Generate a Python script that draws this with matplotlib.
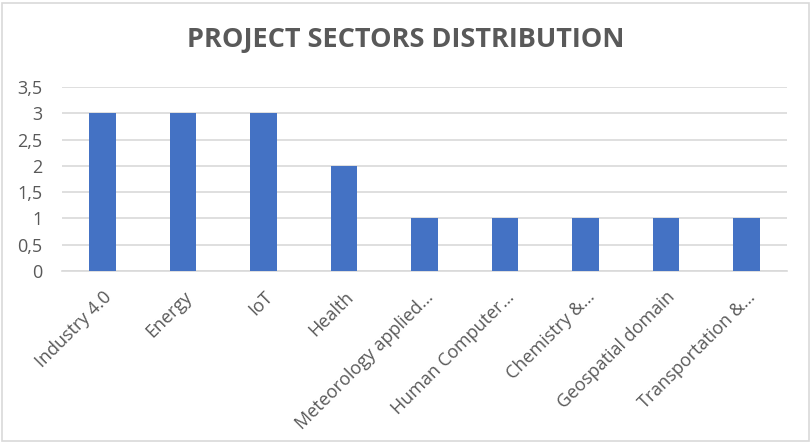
import matplotlib
matplotlib.use("Agg")
import matplotlib.pyplot as plt
from matplotlib.patches import FancyBboxPatch
from matplotlib.ticker import FuncFormatter

sectors = ["Industry 4.0", "Energy", "IoT", "Health", "Meteorology applied…",
           "Human Computer…", "Chemistry &…", "Geospatial domain", "Transportation &…"]
projects = [3, 3, 3, 2, 1, 1, 1, 1, 1]
yticks = [0, 0.5, 1, 1.5, 2, 2.5, 3, 3.5]

grey = "#595959"
plt.rcParams["font.family"] = ["Open Sans", "DejaVu Sans"]

fig = plt.figure(figsize=(8.11, 4.43), dpi=100)
# chart area border
fig.patches.append(FancyBboxPatch((0.003, 0.004), 0.994, 0.99,
                                  boxstyle="square,pad=0", transform=fig.transFigure,
                                  fill=False, edgecolor="#D9D9D9", linewidth=1.2))

ax = fig.add_axes([62 / 811, 1 - 271 / 443, (787 - 62) / 811, (271 - 87) / 443])
x = range(len(sectors))
ax.bar(x, projects, width=0.33, color="#4472C4", zorder=3)

ax.set_xlim(-0.5, len(sectors) - 0.5)
ax.set_ylim(0, 3.5)
ax.set_yticks(yticks)
ax.yaxis.set_major_formatter(FuncFormatter(lambda v, p: f"{v:g}".replace(".", ",")))
ax.grid(axis="y", color="#D9D9D9", linewidth=1.2, zorder=0)
ax.set_xticks(list(x))
ax.set_xticklabels(sectors, rotation=45, ha="right", rotation_mode="anchor",
                   fontsize=13, color=grey)
for lab in ax.get_xticklabels():
    lab.set_y(-0.065)
ax.tick_params(axis="y", length=0, colors=grey, labelsize=13, pad=14)
ax.tick_params(axis="x", length=0, colors=grey)
for s in ["top", "right", "left"]:
    ax.spines[s].set_visible(False)
ax.spines["bottom"].set_color("#D9D9D9")
ax.spines["bottom"].set_linewidth(1.2)

fig.text(0.5, 1 - 40 / 443, "PROJECT SECTORS DISTRIBUTION", ha="center", va="center",
         fontsize=19.5, fontweight="bold", color=grey)

fig.savefig("out.png", dpi=100)
